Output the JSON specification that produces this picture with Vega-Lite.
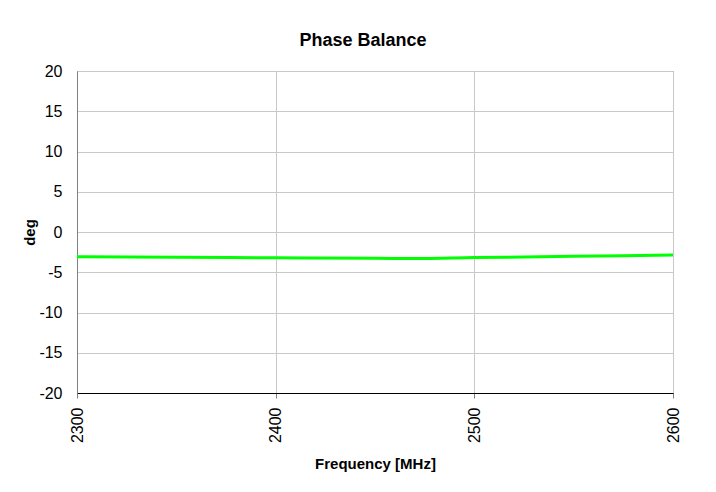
{
  "$schema": "https://vega.github.io/schema/vega-lite/v6.json",
  "width": 596,
  "height": 322,
  "autosize": {"type": "none"},
  "padding": {"left": 77, "top": 71, "right": 43, "bottom": 99},
  "background": "white",
  "title": {
    "text": "Phase Balance",
    "font": "Liberation Sans",
    "fontSize": 18,
    "fontWeight": "bold",
    "color": "black",
    "anchor": "middle",
    "dx": -12,
    "offset": 13
  },
  "config": {
    "view": {"stroke": "#808080", "strokeWidth": 1},
    "font": "Liberation Sans"
  },
  "data": {
    "values": [
      {"freq": 2300, "deg": -3.07},
      {"freq": 2350, "deg": -3.13},
      {"freq": 2400, "deg": -3.2},
      {"freq": 2450, "deg": -3.27},
      {"freq": 2470, "deg": -3.29},
      {"freq": 2500, "deg": -3.18},
      {"freq": 2550, "deg": -3.02},
      {"freq": 2600, "deg": -2.86}
    ]
  },
  "mark": {"type": "line", "color": "#00FF00", "strokeWidth": 3, "interpolate": "monotone"},
  "encoding": {
    "x": {
      "field": "freq",
      "type": "quantitative",
      "title": "Frequency [MHz]",
      "scale": {"domain": [2300, 2600], "nice": false, "zero": false},
      "axis": {
        "values": [2300, 2400, 2500, 2600],
        "format": "d",
        "labelAngle": -90,
        "labelFontSize": 16,
        "labelColor": "black",
        "labelPadding": 9,
        "tickSize": 5,
        "tickColor": "#808080",
        "domainColor": "black",
        "domainWidth": 1,
        "grid": true,
        "gridColor": "#c8c8c8",
        "titleFontSize": 15,
        "titleFontWeight": "bold",
        "titleColor": "black",
        "titlePadding": 14
      }
    },
    "y": {
      "field": "deg",
      "type": "quantitative",
      "title": "deg",
      "scale": {"domain": [-20, 20], "nice": false, "zero": false},
      "axis": {
        "values": [-20, -15, -10, -5, 0, 5, 10, 15, 20],
        "labelExpr": "datum.value < 0 ? '-' + abs(datum.value) : '' + datum.value",
        "ticks": false,
        "labelFontSize": 16,
        "labelColor": "black",
        "labelPadding": 15,
        "domainColor": "#808080",
        "grid": true,
        "gridColor": "#c8c8c8",
        "titleFontSize": 15,
        "titleFontWeight": "bold",
        "titleColor": "black",
        "titlePadding": 1
      }
    }
  }
}
